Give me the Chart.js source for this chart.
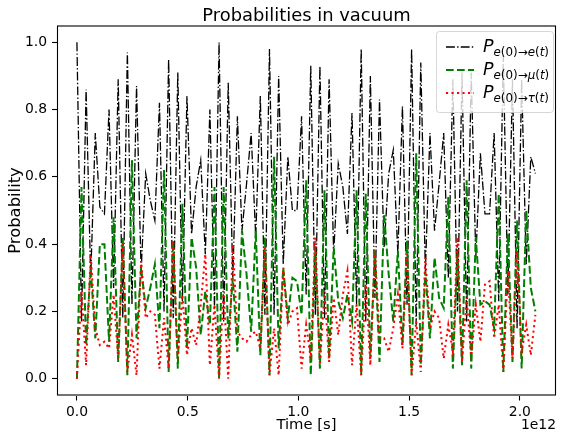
<!DOCTYPE html>
<html>
<head>
<meta charset="utf-8">
<script src="https://cdn.jsdelivr.net/npm/chart.js@4.4.1/dist/chart.umd.min.js"></script>
<style>
  html, body { margin: 0; padding: 0; background: #fff; }
  #wrap { width: 562px; height: 434px; }
</style>
</head>
<body>
<div id="wrap"><canvas id="probChart" width="562" height="434"></canvas></div>
<script>
// Time samples, in units of 1e12 s
const times = [
  0.0000, 0.0207, 0.0414, 0.0621, 0.0828, 0.1035, 0.1242, 0.1449, 0.1656, 0.1863,
  0.2070, 0.2277, 0.2484, 0.2691, 0.2898, 0.3105, 0.3312, 0.3519, 0.3726, 0.3933,
  0.4140, 0.4347, 0.4554, 0.4761, 0.4968, 0.5175, 0.5382, 0.5589, 0.5796, 0.6003,
  0.6210, 0.6417, 0.6624, 0.6831, 0.7038, 0.7245, 0.7452, 0.7659, 0.7866, 0.8073,
  0.8280, 0.8487, 0.8694, 0.8901, 0.9108, 0.9315, 0.9522, 0.9729, 0.9936, 1.0143,
  1.0350, 1.0557, 1.0764, 1.0971, 1.1178, 1.1385, 1.1592, 1.1799, 1.2006, 1.2213,
  1.2420, 1.2627, 1.2834, 1.3041, 1.3248, 1.3455, 1.3662, 1.3869, 1.4076, 1.4283,
  1.4490, 1.4697, 1.4904, 1.5111, 1.5318, 1.5525, 1.5732, 1.5939, 1.6146, 1.6353,
  1.6560, 1.6767, 1.6974, 1.7181, 1.7388, 1.7595, 1.7802, 1.8009, 1.8216, 1.8423,
  1.8630, 1.8837, 1.9044, 1.9251, 1.9458, 1.9665, 1.9872, 2.0079, 2.0286, 2.0493,
  2.0700
];

// P(e -> e)
const probEE = [
  1.00, 0.17, 0.86, 0.30, 0.73, 0.51, 0.49, 0.80, 0.27, 0.89,
  0.18, 0.97, 0.22, 0.87, 0.32, 0.61, 0.53, 0.47, 0.82, 0.20,
  0.95, 0.18, 0.91, 0.23, 0.84, 0.43, 0.57, 0.65, 0.37, 0.80,
  0.21, 1.00, 0.17, 0.88, 0.30, 0.78, 0.44, 0.58, 0.73, 0.42,
  0.84, 0.19, 0.98, 0.19, 0.90, 0.34, 0.66, 0.50, 0.50, 0.78,
  0.25, 0.93, 0.19, 0.93, 0.18, 0.89, 0.37, 0.64, 0.57, 0.43,
  0.79, 0.22, 0.98, 0.17, 0.90, 0.24, 0.83, 0.39, 0.61, 0.68,
  0.37, 0.81, 0.22, 0.98, 0.16, 0.94, 0.32, 0.73, 0.44, 0.58,
  0.73, 0.30, 0.89, 0.20, 0.91, 0.17, 0.91, 0.36, 0.67, 0.49,
  0.49, 0.73, 0.23, 0.96, 0.25, 0.89, 0.15, 0.89, 0.34, 0.66,
  0.61
];

// P(e -> mu)
const probEMu = [
  0.00, 0.57, 0.10, 0.33, 0.12, 0.40, 0.40, 0.11, 0.48, 0.05,
  0.42, 0.01, 0.65, 0.12, 0.33, 0.21, 0.27, 0.34, 0.15, 0.62,
  0.02, 0.41, 0.03, 0.52, 0.09, 0.42, 0.33, 0.13, 0.26, 0.16,
  0.57, 0.00, 0.57, 0.12, 0.30, 0.08, 0.44, 0.31, 0.14, 0.44,
  0.07, 0.42, 0.01, 0.66, 0.09, 0.33, 0.18, 0.30, 0.29, 0.19,
  0.59, 0.01, 0.39, 0.03, 0.56, 0.06, 0.39, 0.23, 0.18, 0.25,
  0.17, 0.56, 0.01, 0.55, 0.06, 0.38, 0.05, 0.49, 0.31, 0.17,
  0.38, 0.10, 0.41, 0.01, 0.67, 0.04, 0.32, 0.12, 0.36, 0.24,
  0.21, 0.54, 0.03, 0.38, 0.04, 0.59, 0.03, 0.42, 0.22, 0.23,
  0.22, 0.15, 0.55, 0.02, 0.43, 0.05, 0.47, 0.03, 0.50, 0.27,
  0.20
];

// P(e -> tau)
const probETau = [
  0.00, 0.26, 0.04, 0.37, 0.15, 0.10, 0.11, 0.09, 0.25, 0.06,
  0.40, 0.02, 0.13, 0.01, 0.35, 0.18, 0.20, 0.19, 0.03, 0.18,
  0.03, 0.41, 0.06, 0.25, 0.07, 0.15, 0.10, 0.22, 0.37, 0.04,
  0.22, 0.00, 0.26, 0.00, 0.40, 0.14, 0.12, 0.11, 0.13, 0.14,
  0.09, 0.39, 0.01, 0.15, 0.01, 0.33, 0.16, 0.20, 0.21, 0.03,
  0.16, 0.06, 0.42, 0.04, 0.26, 0.05, 0.24, 0.13, 0.25, 0.32,
  0.04, 0.22, 0.01, 0.28, 0.04, 0.38, 0.12, 0.12, 0.08, 0.15,
  0.25, 0.09, 0.37, 0.01, 0.17, 0.02, 0.36, 0.15, 0.20, 0.18,
  0.06, 0.16, 0.08, 0.42, 0.05, 0.24, 0.06, 0.22, 0.11, 0.28,
  0.29, 0.12, 0.22, 0.02, 0.32, 0.06, 0.38, 0.08, 0.16, 0.07,
  0.19
];

const xTicks = [0.0, 0.5, 1.0, 1.5, 2.0];
const yTicks = [0.0, 0.2, 0.4, 0.6, 0.8, 1.0];

const FONT = '"DejaVu Sans", sans-serif';

function toPoints(ys) {
  return ys.map((y, i) => ({ x: times[i], y: y }));
}

// Axes frame, title and axis labels drawn matplotlib style
const framePlugin = {
  id: 'frame',
  afterDraw(chart) {
    const { ctx, chartArea: a } = chart;
    ctx.save();
    ctx.strokeStyle = '#000';
    ctx.lineWidth = 1.1;
    ctx.strokeRect(a.left + 0.5, a.top + 0.5, a.right - a.left - 1, a.bottom - a.top - 1);

    ctx.fillStyle = '#000';
    ctx.textAlign = 'center';
    ctx.textBaseline = 'alphabetic';
    ctx.font = '17.9px ' + FONT;
    ctx.fillText('Probabilities in vacuum', (a.left + a.right) / 2, 20.5);
    ctx.font = '14.8px ' + FONT;
    ctx.fillText('Time [s]', (a.left + a.right) / 2, 429);

    ctx.textAlign = 'right';
    ctx.font = '13.9px ' + FONT;
    ctx.fillText('1e12', a.right, 429);

    ctx.save();
    ctx.translate(20, (a.top + a.bottom) / 2);
    ctx.rotate(-Math.PI / 2);
    ctx.textAlign = 'center';
    ctx.font = '16.4px ' + FONT;
    ctx.fillText('Probability', 0, 0);
    ctx.restore();
    ctx.restore();
  }
};

// Legend inside upper right corner
const legendPlugin = {
  id: 'mplLegend',
  afterDraw(chart) {
    const ctx = chart.ctx;
    const box = { x: 436, y: 31, w: 117, h: 81 };
    ctx.save();
    ctx.beginPath();
    ctx.roundRect(box.x + 0.5, box.y + 0.5, box.w, box.h, 3);
    ctx.fillStyle = 'rgba(255,255,255,0.8)';
    ctx.fill();
    ctx.strokeStyle = 'rgba(204,204,204,0.8)';
    ctx.lineWidth = 1;
    ctx.stroke();

    const rows = [
      { sym: 'e', ds: chart.data.datasets[0] },
      { sym: 'μ', ds: chart.data.datasets[1] },
      { sym: 'τ', ds: chart.data.datasets[2] }
    ];
    rows.forEach((r, k) => {
      const yc = 47 + k * 23;
      ctx.beginPath();
      ctx.setLineDash(r.ds.borderDash);
      ctx.lineWidth = r.ds.borderWidth;
      ctx.strokeStyle = r.ds.borderColor;
      ctx.moveTo(446, yc);
      ctx.lineTo(474, yc);
      ctx.stroke();
      ctx.setLineDash([]);

      ctx.fillStyle = '#000';
      ctx.textAlign = 'left';
      ctx.textBaseline = 'alphabetic';
      let x = 483;
      ctx.font = 'italic 17.5px ' + FONT;
      ctx.fillText('P', x, yc + 5);
      x += ctx.measureText('P').width;
      const parts = [['e', true], ['(0)', false], ['\u2192', false], [r.sym, true], ['(', false], ['t', true], [')', false]];
      parts.forEach(([t, it]) => {
        ctx.font = (it ? 'italic ' : '') + '11.9px ' + FONT;
        ctx.fillText(t, x, yc + 9);
        x += ctx.measureText(t).width;
      });
    });
    ctx.restore();
  }
};

const ctx = document.getElementById('probChart').getContext('2d');
new Chart(ctx, {
  type: 'line',
  data: {
    datasets: [
      {
        label: 'P e->e',
        data: toPoints(probEE),
        borderColor: '#000000',
        borderWidth: 1.3,
        borderDash: [8.9, 2.2, 1.4, 2.2],
        order: 3
      },
      {
        label: 'P e->mu',
        data: toPoints(probEMu),
        borderColor: '#008000',
        borderWidth: 2.0,
        borderDash: [7.7, 3.3],
        order: 2
      },
      {
        label: 'P e->tau',
        data: toPoints(probETau),
        borderColor: '#ff0000',
        borderWidth: 2.0,
        borderDash: [2.1, 3.4],
        order: 1
      }
    ]
  },
  options: {
    responsive: false,
    animation: false,
    devicePixelRatio: 1,
    layout: { padding: { left: 0, right: 6, top: 25.5, bottom: 0 } },
    elements: {
      point: { radius: 0 },
      line: { tension: 0, fill: false, borderCapStyle: 'butt' }
    },
    plugins: {
      legend: { display: false },
      title: { display: false },
      tooltip: { enabled: false }
    },
    scales: {
      x: {
        type: 'linear',
        min: -0.09,
        max: 2.163,
        afterBuildTicks: (s) => { s.ticks = xTicks.map(v => ({ value: v })); },
        afterFit: (s) => { s.height = 38.5; },
        ticks: {
          callback: (v) => v.toFixed(1),
          color: '#000',
          font: { family: FONT, size: 13.9 },
          padding: 4,
          maxRotation: 0
        },
        grid: { drawOnChartArea: false, drawTicks: true, tickLength: 5, color: '#000', tickWidth: 1.1 },
        border: { display: false }
      },
      y: {
        min: -0.05,
        max: 1.05,
        afterBuildTicks: (s) => { s.ticks = yTicks.map(v => ({ value: v })); },
        afterFit: (s) => { s.width = 57; },
        ticks: {
          callback: (v) => v.toFixed(1),
          color: '#000',
          font: { family: FONT, size: 13.9 },
          padding: 5
        },
        grid: { drawOnChartArea: false, drawTicks: true, tickLength: 5, color: '#000', tickWidth: 1.1 },
        border: { display: false }
      }
    }
  },
  plugins: [framePlugin, legendPlugin]
});
</script>
</body>
</html>
